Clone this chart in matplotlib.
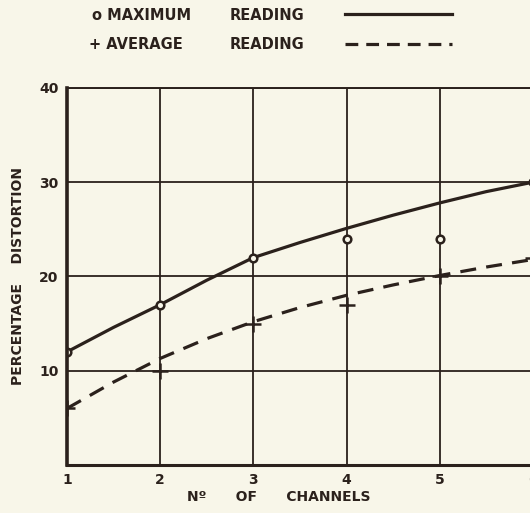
import matplotlib.pyplot as plt
import numpy as np

# readings taken from the chart
channels = [1, 2, 3, 4, 5, 6]
max_reading = [12, 17, 22, 24, 24, 30]
avg_reading = [6, 10, 15, 17, 20, 22]

# hand-drawn curves through the readings
curve_x = [1, 1.5, 2, 2.5, 3, 3.5, 4, 4.5, 5, 5.5, 6]
max_curve = [12, 14.6, 17, 19.6, 22, 23.6, 25.1, 26.5, 27.8, 29.0, 30]
avg_curve = [6, 8.8, 11.3, 13.4, 15.2, 16.7, 18.0, 19.1, 20.1, 21.0, 21.8]

ink = '#2b211c'
paper = '#f8f6e9'

fig = plt.figure(figsize=(5.30, 5.13), dpi=100, facecolor=paper)
ax = fig.add_axes([0.1264, 0.0936, 0.879, 0.735], facecolor=paper)

ax.plot(curve_x, max_curve, color=ink, lw=2.3, solid_capstyle='round')
ax.plot(curve_x, avg_curve, color=ink, lw=2.3, ls=(0, (5, 3.2)))
ax.plot(channels, max_reading, 'o', ms=5.5, mfc=paper, mec=ink, mew=1.8)
ax.plot(channels, avg_reading, '+', ms=11, mec=ink, mew=1.8)

ax.set_xlim(1, 6)
ax.set_ylim(0, 40)
ax.set_xticks(channels)
ax.set_yticks([10, 20, 30, 40])
ax.grid(True, color=ink, lw=1.3)
ax.tick_params(length=0, pad=6, labelsize=10, colors=ink)
for lab in ax.get_xticklabels() + ax.get_yticklabels():
    lab.set_fontweight('bold')
for s in ax.spines.values():
    s.set_color(ink)
    s.set_linewidth(1.4)
ax.spines['left'].set_linewidth(2.6)
ax.spines['bottom'].set_linewidth(2.2)

ax.set_xlabel('Nº      OF      CHANNELS', fontsize=10, fontweight='bold',
              color=ink)
ax.xaxis.set_label_coords(0.455, -0.066)
ax.set_ylabel('PERCENTAGE    DISTORTION', fontsize=10, fontweight='bold',
              color=ink, labelpad=10)

# legend drawn as text at the top
leg_style = dict(fontsize=10.5, fontweight='bold', color=ink, va='center')
fig.text(0.174, 0.970, 'o MAXIMUM', **leg_style)
fig.text(0.434, 0.970, 'READING', **leg_style)
fig.text(0.168, 0.913, '+ AVERAGE', **leg_style)
fig.text(0.434, 0.913, 'READING', **leg_style)
fig.lines.append(plt.Line2D([0.651, 0.853], [0.972, 0.972], color=ink, lw=2.3,
                            transform=fig.transFigure))
fig.lines.append(plt.Line2D([0.651, 0.853], [0.915, 0.915], color=ink, lw=2.3,
                            ls=(0, (4, 2.5)), transform=fig.transFigure))

fig.savefig('out.png', dpi=100, facecolor=paper)
